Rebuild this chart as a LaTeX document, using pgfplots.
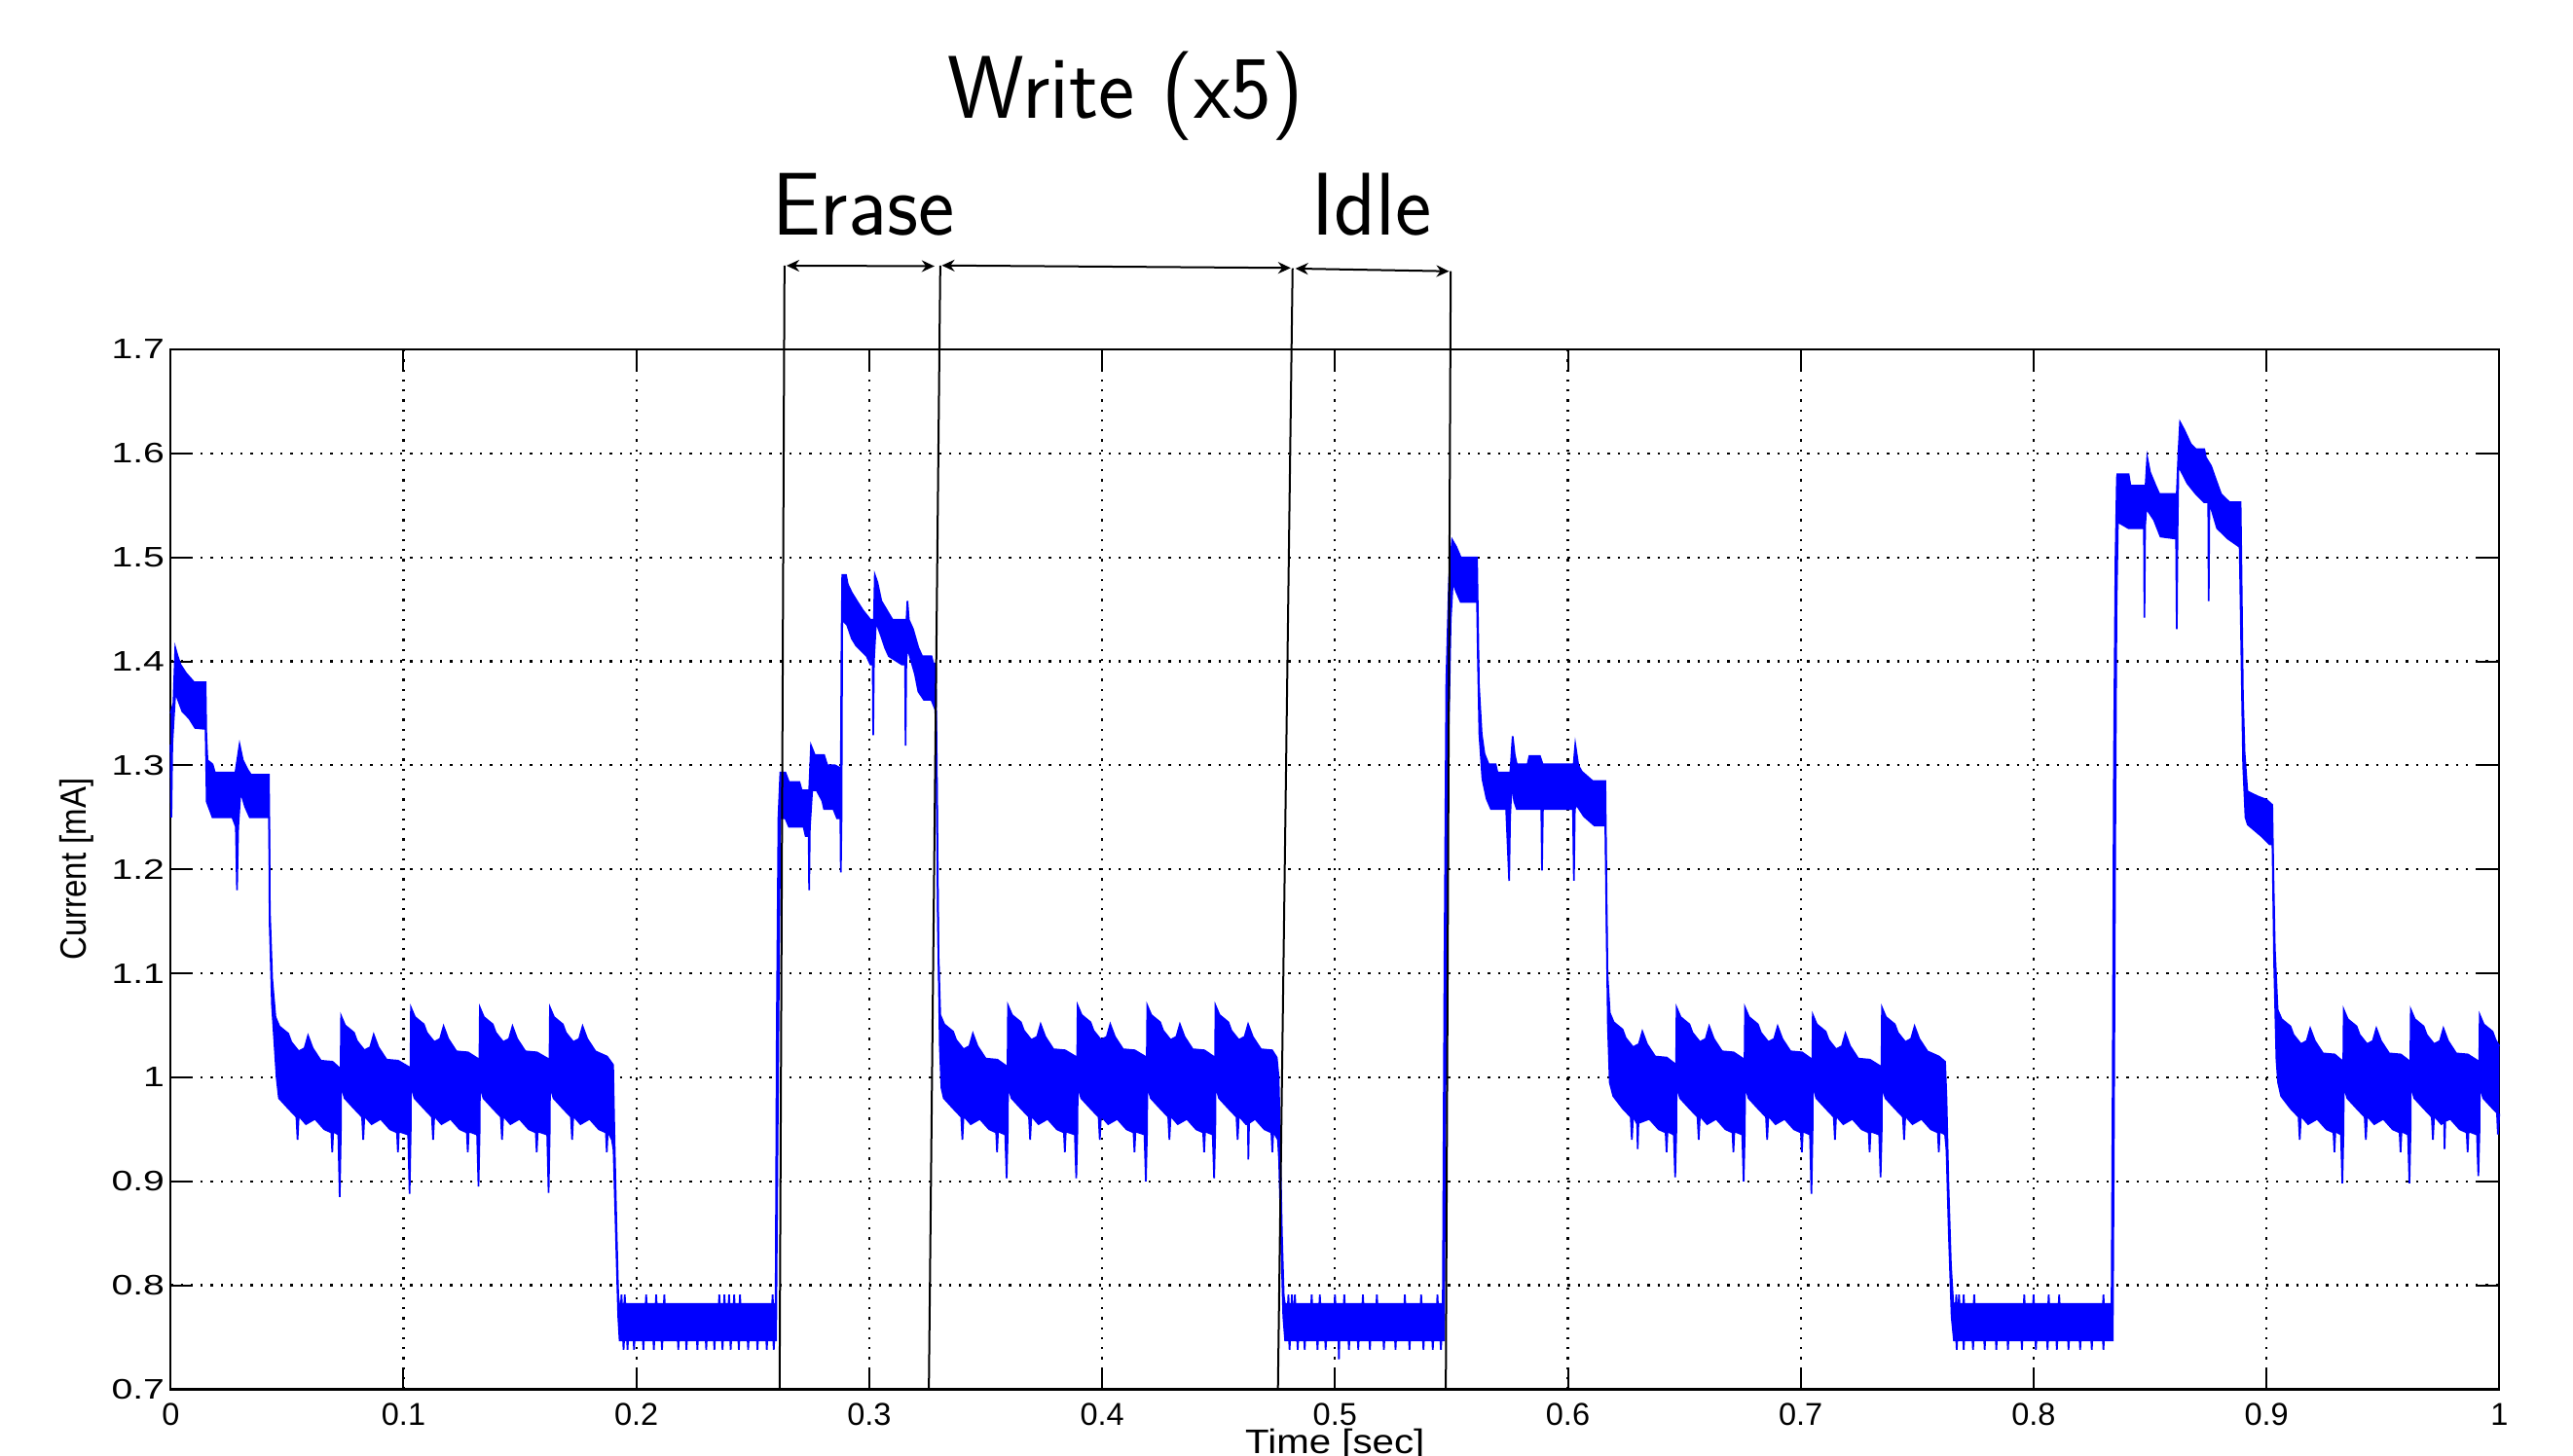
\documentclass[border=0pt]{standalone}
\usepackage{fontspec}
\setmainfont{Liberation Sans}
\usepackage{pgfplots}
\usepackage{pgfplotstable}
\pgfplotsset{compat=1.18}
\usepgfplotslibrary{fillbetween}
\usetikzlibrary{arrows.meta}

% upper envelope of the current trace
\pgfplotstableread{
x y
0.0000 1.350
0.0012 1.360
0.0020 1.413
0.0030 1.405
0.0042 1.397
0.0065 1.389
0.0100 1.380
0.0150 1.380
0.0153 1.330
0.0158 1.305
0.0180 1.301
0.0190 1.293
0.0278 1.293
0.0296 1.320
0.0310 1.305
0.0330 1.296
0.0345 1.291
0.0422 1.291
0.0426 1.160
0.0436 1.095
0.0450 1.058
0.0467 1.049
0.0505 1.042
0.0518 1.034
0.0550 1.025
0.0575 1.028
0.0590 1.040
0.0610 1.028
0.0645 1.016
0.0695 1.015
0.0730 1.008
0.0732 1.059
0.0749 1.050
0.0787 1.043
0.0800 1.035
0.0832 1.026
0.0857 1.029
0.0872 1.041
0.0892 1.029
0.0927 1.017
0.0977 1.016
0.1030 1.009
0.1032 1.067
0.1049 1.058
0.1087 1.051
0.1100 1.043
0.1132 1.034
0.1157 1.037
0.1172 1.049
0.1192 1.037
0.1227 1.025
0.1277 1.024
0.1326 1.017
0.1328 1.067
0.1345 1.058
0.1383 1.051
0.1396 1.043
0.1428 1.034
0.1453 1.037
0.1468 1.049
0.1488 1.037
0.1523 1.025
0.1573 1.024
0.1627 1.017
0.1629 1.067
0.1646 1.058
0.1684 1.051
0.1697 1.043
0.1729 1.034
0.1754 1.037
0.1769 1.049
0.1789 1.037
0.1824 1.025
0.1874 1.020
0.1900 1.012
0.1906 0.940
0.1914 0.860
0.1922 0.790
0.1926 0.782
0.1934 0.782
0.1936 0.791
0.1938 0.782
0.1948 0.782
0.1950 0.791
0.1952 0.782
0.2040 0.782
0.2042 0.791
0.2044 0.782
0.2083 0.782
0.2085 0.791
0.2087 0.782
0.2118 0.782
0.2120 0.791
0.2122 0.782
0.2354 0.782
0.2356 0.791
0.2358 0.782
0.2376 0.782
0.2378 0.791
0.2380 0.782
0.2396 0.782
0.2398 0.791
0.2400 0.782
0.2418 0.782
0.2420 0.791
0.2422 0.782
0.2443 0.782
0.2445 0.791
0.2447 0.782
0.2583 0.782
0.2585 0.791
0.2587 0.782
0.2598 0.782
0.2603 1.050
0.2610 1.250
0.2618 1.293
0.2640 1.293
0.2655 1.284
0.2700 1.284
0.2710 1.276
0.2742 1.276
0.2750 1.319
0.2766 1.310
0.2806 1.310
0.2820 1.300
0.2854 1.300
0.2878 1.297
0.2881 1.420
0.2884 1.483
0.2900 1.483
0.2908 1.474
0.2925 1.466
0.2950 1.457
0.2973 1.449
0.3005 1.440
0.3020 1.440
0.3024 1.483
0.3035 1.476
0.3052 1.458
0.3076 1.449
0.3100 1.440
0.3160 1.440
0.3164 1.458
0.3170 1.440
0.3188 1.431
0.3211 1.413
0.3227 1.405
0.3267 1.405
0.3275 1.398
0.3285 1.398
0.3290 1.300
0.3297 1.120
0.3305 1.060
0.3322 1.051
0.3360 1.044
0.3373 1.036
0.3405 1.027
0.3430 1.030
0.3445 1.042
0.3465 1.030
0.3500 1.018
0.3550 1.017
0.3594 1.010
0.3596 1.069
0.3613 1.060
0.3651 1.053
0.3664 1.045
0.3696 1.036
0.3721 1.039
0.3736 1.051
0.3756 1.039
0.3791 1.027
0.3841 1.026
0.3893 1.019
0.3895 1.069
0.3912 1.060
0.3950 1.053
0.3963 1.045
0.3995 1.036
0.4020 1.039
0.4035 1.051
0.4055 1.039
0.4090 1.027
0.4140 1.026
0.4192 1.019
0.4194 1.069
0.4211 1.060
0.4249 1.053
0.4262 1.045
0.4294 1.036
0.4319 1.039
0.4334 1.051
0.4354 1.039
0.4389 1.027
0.4439 1.026
0.4485 1.019
0.4487 1.069
0.4504 1.060
0.4542 1.053
0.4555 1.045
0.4587 1.036
0.4612 1.039
0.4627 1.051
0.4647 1.039
0.4682 1.027
0.4730 1.026
0.4750 1.019
0.4758 1.000
0.4764 0.940
0.4772 0.850
0.4780 0.790
0.4785 0.782
0.4798 0.782
0.4800 0.791
0.4802 0.782
0.4813 0.782
0.4815 0.791
0.4817 0.782
0.4826 0.782
0.4828 0.791
0.4830 0.782
0.4898 0.782
0.4900 0.791
0.4902 0.782
0.4933 0.782
0.4935 0.791
0.4937 0.782
0.4998 0.782
0.5000 0.791
0.5002 0.782
0.5038 0.782
0.5040 0.791
0.5042 0.782
0.5118 0.782
0.5120 0.791
0.5122 0.782
0.5178 0.782
0.5180 0.791
0.5182 0.782
0.5298 0.782
0.5300 0.791
0.5302 0.782
0.5368 0.782
0.5370 0.791
0.5372 0.782
0.5438 0.782
0.5440 0.791
0.5442 0.782
0.5463 0.782
0.5470 1.100
0.5478 1.380
0.5490 1.480
0.5503 1.517
0.5521 1.510
0.5540 1.500
0.5610 1.500
0.5614 1.440
0.5618 1.378
0.5630 1.330
0.5642 1.311
0.5660 1.301
0.5690 1.301
0.5698 1.293
0.5753 1.293
0.5763 1.328
0.5772 1.310
0.5781 1.301
0.5827 1.301
0.5835 1.309
0.5880 1.309
0.5892 1.301
0.6025 1.301
0.6032 1.320
0.6045 1.300
0.6060 1.294
0.6106 1.285
0.6161 1.285
0.6165 1.200
0.6170 1.100
0.6180 1.062
0.6197 1.053
0.6235 1.046
0.6248 1.038
0.6280 1.029
0.6305 1.032
0.6320 1.044
0.6340 1.032
0.6375 1.020
0.6425 1.019
0.6465 1.012
0.6467 1.067
0.6484 1.058
0.6522 1.051
0.6535 1.043
0.6567 1.034
0.6592 1.037
0.6607 1.049
0.6627 1.037
0.6662 1.025
0.6712 1.024
0.6759 1.017
0.6761 1.067
0.6778 1.058
0.6816 1.051
0.6829 1.043
0.6861 1.034
0.6886 1.037
0.6901 1.049
0.6921 1.037
0.6956 1.025
0.7006 1.024
0.7050 1.017
0.7052 1.060
0.7069 1.051
0.7107 1.044
0.7120 1.036
0.7152 1.027
0.7177 1.030
0.7192 1.042
0.7212 1.030
0.7247 1.018
0.7297 1.017
0.7347 1.010
0.7349 1.067
0.7366 1.058
0.7404 1.051
0.7417 1.043
0.7449 1.034
0.7474 1.037
0.7489 1.049
0.7509 1.037
0.7544 1.025
0.7594 1.020
0.7620 1.015
0.7626 0.980
0.7634 0.900
0.7645 0.820
0.7655 0.783
0.7666 0.782
0.7668 0.791
0.7670 0.782
0.7678 0.782
0.7680 0.791
0.7682 0.782
0.7698 0.782
0.7700 0.791
0.7702 0.782
0.7743 0.782
0.7745 0.791
0.7747 0.782
0.7958 0.782
0.7960 0.791
0.7962 0.782
0.7998 0.782
0.8000 0.791
0.8002 0.782
0.8063 0.782
0.8065 0.791
0.8067 0.782
0.8108 0.782
0.8110 0.791
0.8112 0.782
0.8298 0.782
0.8300 0.791
0.8302 0.782
0.8335 0.782
0.8340 1.000
0.8345 1.300
0.8352 1.500
0.8358 1.577
0.8360 1.580
0.8408 1.580
0.8416 1.569
0.8481 1.569
0.8488 1.596
0.8500 1.582
0.8524 1.569
0.8540 1.561
0.8615 1.561
0.8622 1.600
0.8629 1.630
0.8646 1.623
0.8675 1.609
0.8697 1.604
0.8733 1.604
0.8740 1.596
0.8762 1.588
0.8784 1.574
0.8805 1.561
0.8841 1.553
0.8889 1.553
0.8892 1.501
0.8899 1.367
0.8906 1.313
0.8918 1.275
0.8964 1.270
0.9000 1.267
0.9025 1.262
0.9029 1.205
0.9036 1.124
0.9048 1.065
0.9065 1.056
0.9103 1.049
0.9116 1.041
0.9148 1.032
0.9173 1.035
0.9188 1.047
0.9208 1.035
0.9243 1.023
0.9293 1.022
0.9330 1.015
0.9332 1.065
0.9349 1.056
0.9387 1.049
0.9400 1.041
0.9432 1.032
0.9457 1.035
0.9472 1.047
0.9492 1.035
0.9527 1.023
0.9577 1.022
0.9618 1.015
0.9620 1.065
0.9637 1.056
0.9675 1.049
0.9688 1.041
0.9720 1.032
0.9745 1.035
0.9760 1.047
0.9780 1.035
0.9815 1.023
0.9865 1.022
0.9914 1.015
0.9916 1.060
0.9933 1.051
0.9971 1.044
0.9984 1.036
1.0000 1.030
}\envhi

% lower envelope of the current trace
\pgfplotstableread{
x y
0.0000 1.320
0.0003 1.250
0.0007 1.320
0.0012 1.340
0.0020 1.370
0.0050 1.352
0.0080 1.345
0.0105 1.336
0.0150 1.335
0.0155 1.265
0.0180 1.250
0.0265 1.250
0.0280 1.241
0.0285 1.180
0.0290 1.240
0.0300 1.275
0.0320 1.260
0.0340 1.250
0.0423 1.250
0.0425 1.150
0.0435 1.070
0.0455 1.000
0.0465 0.980
0.0506 0.970
0.0540 0.962
0.0545 0.940
0.0550 0.963
0.0581 0.955
0.0620 0.960
0.0660 0.950
0.0690 0.947
0.0694 0.928
0.0698 0.948
0.0720 0.945
0.0726 0.885
0.0731 0.950
0.0732 0.992
0.0747 0.980
0.0788 0.970
0.0822 0.962
0.0827 0.940
0.0832 0.963
0.0863 0.955
0.0902 0.960
0.0942 0.950
0.0972 0.947
0.0976 0.928
0.0980 0.948
0.1020 0.945
0.1026 0.888
0.1031 0.950
0.1032 0.992
0.1047 0.980
0.1088 0.970
0.1122 0.962
0.1127 0.940
0.1132 0.963
0.1163 0.955
0.1202 0.960
0.1242 0.950
0.1272 0.947
0.1276 0.928
0.1280 0.948
0.1316 0.945
0.1322 0.895
0.1327 0.950
0.1328 0.992
0.1343 0.980
0.1384 0.970
0.1418 0.962
0.1423 0.940
0.1428 0.963
0.1459 0.955
0.1498 0.960
0.1538 0.950
0.1568 0.947
0.1572 0.928
0.1576 0.948
0.1617 0.945
0.1623 0.889
0.1628 0.950
0.1629 0.992
0.1644 0.980
0.1685 0.970
0.1719 0.962
0.1724 0.940
0.1729 0.963
0.1760 0.955
0.1799 0.960
0.1839 0.950
0.1869 0.947
0.1873 0.928
0.1877 0.948
0.1895 0.940
0.1902 0.930
0.1912 0.850
0.1922 0.770
0.1928 0.747
0.1943 0.747
0.1945 0.738
0.1947 0.747
0.1960 0.747
0.1962 0.738
0.1964 0.747
0.1988 0.747
0.1990 0.738
0.1992 0.747
0.2028 0.747
0.2030 0.738
0.2032 0.747
0.2073 0.747
0.2075 0.738
0.2077 0.747
0.2108 0.747
0.2110 0.738
0.2112 0.747
0.2178 0.747
0.2180 0.738
0.2182 0.747
0.2213 0.747
0.2215 0.738
0.2217 0.747
0.2260 0.747
0.2262 0.738
0.2264 0.747
0.2298 0.747
0.2300 0.738
0.2302 0.747
0.2333 0.747
0.2335 0.738
0.2337 0.747
0.2368 0.747
0.2370 0.738
0.2372 0.747
0.2403 0.747
0.2405 0.738
0.2407 0.747
0.2438 0.747
0.2440 0.738
0.2442 0.747
0.2478 0.747
0.2480 0.738
0.2482 0.747
0.2518 0.747
0.2520 0.738
0.2522 0.747
0.2558 0.747
0.2560 0.738
0.2562 0.747
0.2588 0.747
0.2590 0.738
0.2592 0.747
0.2600 0.747
0.2605 0.900
0.2612 1.100
0.2618 1.249
0.2640 1.249
0.2655 1.241
0.2718 1.241
0.2727 1.232
0.2740 1.232
0.2742 1.180
0.2745 1.240
0.2755 1.276
0.2774 1.276
0.2798 1.266
0.2806 1.258
0.2846 1.258
0.2862 1.249
0.2876 1.249
0.2878 1.197
0.2881 1.250
0.2884 1.440
0.2905 1.435
0.2925 1.422
0.2944 1.415
0.2989 1.405
0.3005 1.397
0.3015 1.397
0.3017 1.329
0.3020 1.400
0.3029 1.438
0.3050 1.425
0.3068 1.413
0.3084 1.405
0.3140 1.397
0.3154 1.397
0.3156 1.319
0.3159 1.400
0.3164 1.413
0.3196 1.388
0.3211 1.371
0.3235 1.363
0.3267 1.363
0.3283 1.354
0.3287 1.340
0.3295 1.150
0.3303 1.030
0.3310 0.990
0.3320 0.980
0.3361 0.970
0.3395 0.962
0.3400 0.940
0.3405 0.963
0.3436 0.955
0.3475 0.960
0.3515 0.950
0.3545 0.947
0.3549 0.928
0.3553 0.948
0.3584 0.945
0.3590 0.903
0.3595 0.950
0.3596 0.992
0.3611 0.980
0.3652 0.970
0.3686 0.962
0.3691 0.940
0.3696 0.963
0.3727 0.955
0.3766 0.960
0.3806 0.950
0.3836 0.947
0.3840 0.928
0.3844 0.948
0.3883 0.945
0.3889 0.903
0.3894 0.950
0.3895 0.992
0.3910 0.980
0.3951 0.970
0.3985 0.962
0.3990 0.940
0.3995 0.963
0.4026 0.955
0.4065 0.960
0.4105 0.950
0.4135 0.947
0.4139 0.928
0.4143 0.948
0.4182 0.945
0.4188 0.900
0.4193 0.950
0.4194 0.992
0.4209 0.980
0.4250 0.970
0.4284 0.962
0.4289 0.940
0.4294 0.963
0.4325 0.955
0.4364 0.960
0.4404 0.950
0.4434 0.947
0.4438 0.928
0.4442 0.948
0.4475 0.945
0.4481 0.903
0.4486 0.950
0.4487 0.992
0.4502 0.980
0.4543 0.970
0.4577 0.962
0.4582 0.940
0.4587 0.963
0.4618 0.955
0.4626 0.955
0.4628 0.921
0.4631 0.956
0.4657 0.960
0.4697 0.950
0.4727 0.947
0.4731 0.928
0.4735 0.948
0.4755 0.940
0.4760 0.920
0.4768 0.850
0.4778 0.770
0.4786 0.747
0.4803 0.747
0.4805 0.738
0.4807 0.747
0.4838 0.747
0.4840 0.738
0.4842 0.747
0.4868 0.747
0.4870 0.738
0.4872 0.747
0.4923 0.747
0.4925 0.738
0.4927 0.747
0.4958 0.747
0.4960 0.738
0.4962 0.747
0.5015 0.747
0.5017 0.729
0.5019 0.747
0.5058 0.747
0.5060 0.738
0.5062 0.747
0.5098 0.747
0.5100 0.738
0.5102 0.747
0.5148 0.747
0.5150 0.738
0.5152 0.747
0.5208 0.747
0.5210 0.738
0.5212 0.747
0.5258 0.747
0.5260 0.738
0.5262 0.747
0.5318 0.747
0.5320 0.738
0.5322 0.747
0.5378 0.747
0.5380 0.738
0.5382 0.747
0.5418 0.747
0.5420 0.738
0.5422 0.747
0.5453 0.747
0.5455 0.738
0.5457 0.747
0.5468 0.747
0.5475 1.000
0.5485 1.300
0.5497 1.440
0.5506 1.476
0.5521 1.467
0.5540 1.457
0.5610 1.457
0.5614 1.400
0.5620 1.330
0.5633 1.287
0.5651 1.268
0.5670 1.258
0.5735 1.258
0.5748 1.189
0.5752 1.250
0.5759 1.282
0.5770 1.265
0.5781 1.258
0.5886 1.258
0.5889 1.199
0.5893 1.258
0.6022 1.258
0.6026 1.189
0.6030 1.258
0.6037 1.262
0.6069 1.251
0.6115 1.242
0.6161 1.242
0.6166 1.150
0.6172 1.050
0.6180 0.995
0.6195 0.982
0.6236 0.970
0.6270 0.962
0.6275 0.940
0.6280 0.963
0.6298 0.955
0.6300 0.931
0.6303 0.956
0.6350 0.960
0.6390 0.950
0.6420 0.947
0.6424 0.928
0.6428 0.948
0.6455 0.945
0.6461 0.904
0.6466 0.950
0.6467 0.992
0.6482 0.980
0.6523 0.970
0.6557 0.962
0.6562 0.940
0.6567 0.963
0.6598 0.955
0.6637 0.960
0.6677 0.950
0.6707 0.947
0.6711 0.928
0.6715 0.948
0.6749 0.945
0.6755 0.900
0.6760 0.950
0.6761 0.992
0.6776 0.980
0.6817 0.970
0.6851 0.962
0.6856 0.940
0.6861 0.963
0.6892 0.955
0.6931 0.960
0.6971 0.950
0.7001 0.947
0.7005 0.928
0.7009 0.948
0.7040 0.945
0.7046 0.888
0.7051 0.950
0.7052 0.992
0.7067 0.980
0.7108 0.970
0.7142 0.962
0.7147 0.940
0.7152 0.963
0.7183 0.955
0.7222 0.960
0.7262 0.950
0.7292 0.947
0.7296 0.928
0.7300 0.948
0.7337 0.945
0.7343 0.904
0.7348 0.950
0.7349 0.992
0.7364 0.980
0.7405 0.970
0.7439 0.962
0.7444 0.940
0.7449 0.963
0.7480 0.955
0.7519 0.960
0.7559 0.950
0.7589 0.947
0.7593 0.928
0.7597 0.948
0.7620 0.945
0.7626 0.930
0.7636 0.850
0.7648 0.770
0.7658 0.747
0.7668 0.747
0.7670 0.738
0.7672 0.747
0.7698 0.747
0.7700 0.738
0.7702 0.747
0.7738 0.747
0.7740 0.738
0.7742 0.747
0.7788 0.747
0.7790 0.738
0.7792 0.747
0.7838 0.747
0.7840 0.738
0.7842 0.747
0.7888 0.747
0.7890 0.738
0.7892 0.747
0.7948 0.747
0.7950 0.738
0.7952 0.747
0.8008 0.747
0.8010 0.738
0.8012 0.747
0.8058 0.747
0.8060 0.738
0.8062 0.747
0.8098 0.747
0.8100 0.738
0.8102 0.747
0.8148 0.747
0.8150 0.738
0.8152 0.747
0.8198 0.747
0.8200 0.738
0.8202 0.747
0.8248 0.747
0.8250 0.738
0.8252 0.747
0.8298 0.747
0.8300 0.738
0.8302 0.747
0.8340 0.747
0.8345 0.950
0.8350 1.200
0.8356 1.450
0.8362 1.534
0.8408 1.528
0.8474 1.528
0.8476 1.442
0.8479 1.530
0.8484 1.547
0.8517 1.536
0.8545 1.520
0.8612 1.518
0.8615 1.431
0.8618 1.520
0.8622 1.588
0.8661 1.571
0.8697 1.561
0.8733 1.553
0.8750 1.553
0.8752 1.458
0.8755 1.553
0.8788 1.528
0.8834 1.518
0.8885 1.510
0.8890 1.440
0.8900 1.300
0.8910 1.250
0.8920 1.243
0.8978 1.232
0.9014 1.224
0.9026 1.224
0.9033 1.110
0.9043 1.017
0.9050 0.995
0.9063 0.982
0.9104 0.970
0.9138 0.962
0.9143 0.940
0.9148 0.963
0.9179 0.955
0.9218 0.960
0.9258 0.950
0.9288 0.947
0.9292 0.928
0.9296 0.948
0.9320 0.945
0.9326 0.898
0.9331 0.950
0.9332 0.992
0.9347 0.980
0.9388 0.970
0.9422 0.962
0.9427 0.940
0.9432 0.963
0.9463 0.955
0.9502 0.960
0.9542 0.950
0.9572 0.947
0.9576 0.928
0.9580 0.948
0.9608 0.945
0.9614 0.898
0.9619 0.950
0.9620 0.992
0.9635 0.980
0.9676 0.970
0.9710 0.962
0.9715 0.940
0.9720 0.963
0.9751 0.955
0.9763 0.957
0.9765 0.931
0.9768 0.958
0.9790 0.960
0.9830 0.950
0.9860 0.947
0.9864 0.928
0.9868 0.948
0.9904 0.945
0.9910 0.905
0.9915 0.950
0.9916 0.992
0.9931 0.980
0.9972 0.970
0.9990 0.966
0.9994 0.945
1.0000 0.965
}\envlo

\begin{document}
\begin{tikzpicture}
\begin{axis}[
  at={(0,0)}, anchor=south west,
  scale only axis,
  width=478.4pt, height=213.7pt,
  xmin=0, xmax=1, ymin=0.7, ymax=1.7,
  xtick={0,0.1,0.2,0.3,0.4,0.5,0.6,0.7,0.8,0.9,1},
  ytick={0.7,0.8,0.9,1,1.1,1.2,1.3,1.4,1.5,1.6,1.7},
  tick align=inside, tick pos=both,
  major tick length=4.5pt,
  tick style={black, line width=0.4pt},
  axis line style={black, line width=0.45pt},
  grid=major,
  grid style={black, line width=0.45pt, dash pattern=on 0.45pt off 1.6pt},
  /pgf/number format/assume math mode=true,
  xticklabel style={font=\fontsize{6.5}{7}\selectfont, inner sep=0pt, yshift=-2.7pt},
  yticklabel style={font=\fontsize{5.8}{7}\selectfont, inner sep=0pt, xshift=-1pt, xscale=1.35},
  xlabel={Time [sec]},
  ylabel={Current [mA]},
  xlabel style={font=\fontsize{7}{8}\selectfont, inner sep=0pt, xscale=1.15,
    at={(axis description cs:0.5,0)}, anchor=north, yshift=-8pt},
  ylabel style={font=\fontsize{7.5}{8}\selectfont, inner sep=0pt, xscale=0.88,
    at={(axis description cs:-0.0403,0.5)}, anchor=center},
  clip=false,
]
\addplot[name path=hi, draw=blue, line width=0.35pt] table {\envhi};
\addplot[name path=lo, draw=blue, line width=0.35pt] table {\envlo};
\addplot[fill=blue, draw=none] fill between[of=hi and lo];

% phase markers
\draw[black, line width=0.4pt] (axis cs:0.2615,0.7) -- (axis cs:0.2636,1.7805);
\draw[black, line width=0.4pt] (axis cs:0.3256,0.7) -- (axis cs:0.3305,1.7805);
\draw[black, line width=0.4pt] (axis cs:0.4755,0.7) -- (axis cs:0.4818,1.7780);
\draw[black, line width=0.4pt] (axis cs:0.5476,0.7) -- (axis cs:0.5497,1.7751);
\draw[black, line width=0.4pt, {Stealth[length=2.6pt,width=2.4pt]}-{Stealth[length=2.6pt,width=2.4pt]}]
  (axis cs:0.2645,1.7805) -- (axis cs:0.3280,1.7800);
\draw[black, line width=0.4pt, {Stealth[length=2.6pt,width=2.4pt]}-{Stealth[length=2.6pt,width=2.4pt]}]
  (axis cs:0.3312,1.7807) -- (axis cs:0.4810,1.7783);
\draw[black, line width=0.4pt, {Stealth[length=2.6pt,width=2.4pt]}-{Stealth[length=2.6pt,width=2.4pt]}]
  (axis cs:0.4830,1.7777) -- (axis cs:0.5490,1.7751);

\node[font=\sffamily\fontsize{18.3}{20}\selectfont, xscale=0.97, anchor=base, inner sep=0pt]
  at (axis cs:0.4101,1.9224) {Write (x5)};
\node[font=\sffamily\fontsize{18.3}{20}\selectfont, xscale=0.97, anchor=base, inner sep=0pt]
  at (axis cs:0.2974,1.8104) {Erase};
\node[font=\sffamily\fontsize{18.3}{20}\selectfont, xscale=0.97, anchor=base, inner sep=0pt]
  at (axis cs:0.5159,1.8104) {Idle};
\end{axis}
% page frame as in the reference
\pgfresetboundingbox
\path[use as bounding box] (-35.06pt,-13.7pt) rectangle (493.54pt,285.5pt);
\end{tikzpicture}
\end{document}
